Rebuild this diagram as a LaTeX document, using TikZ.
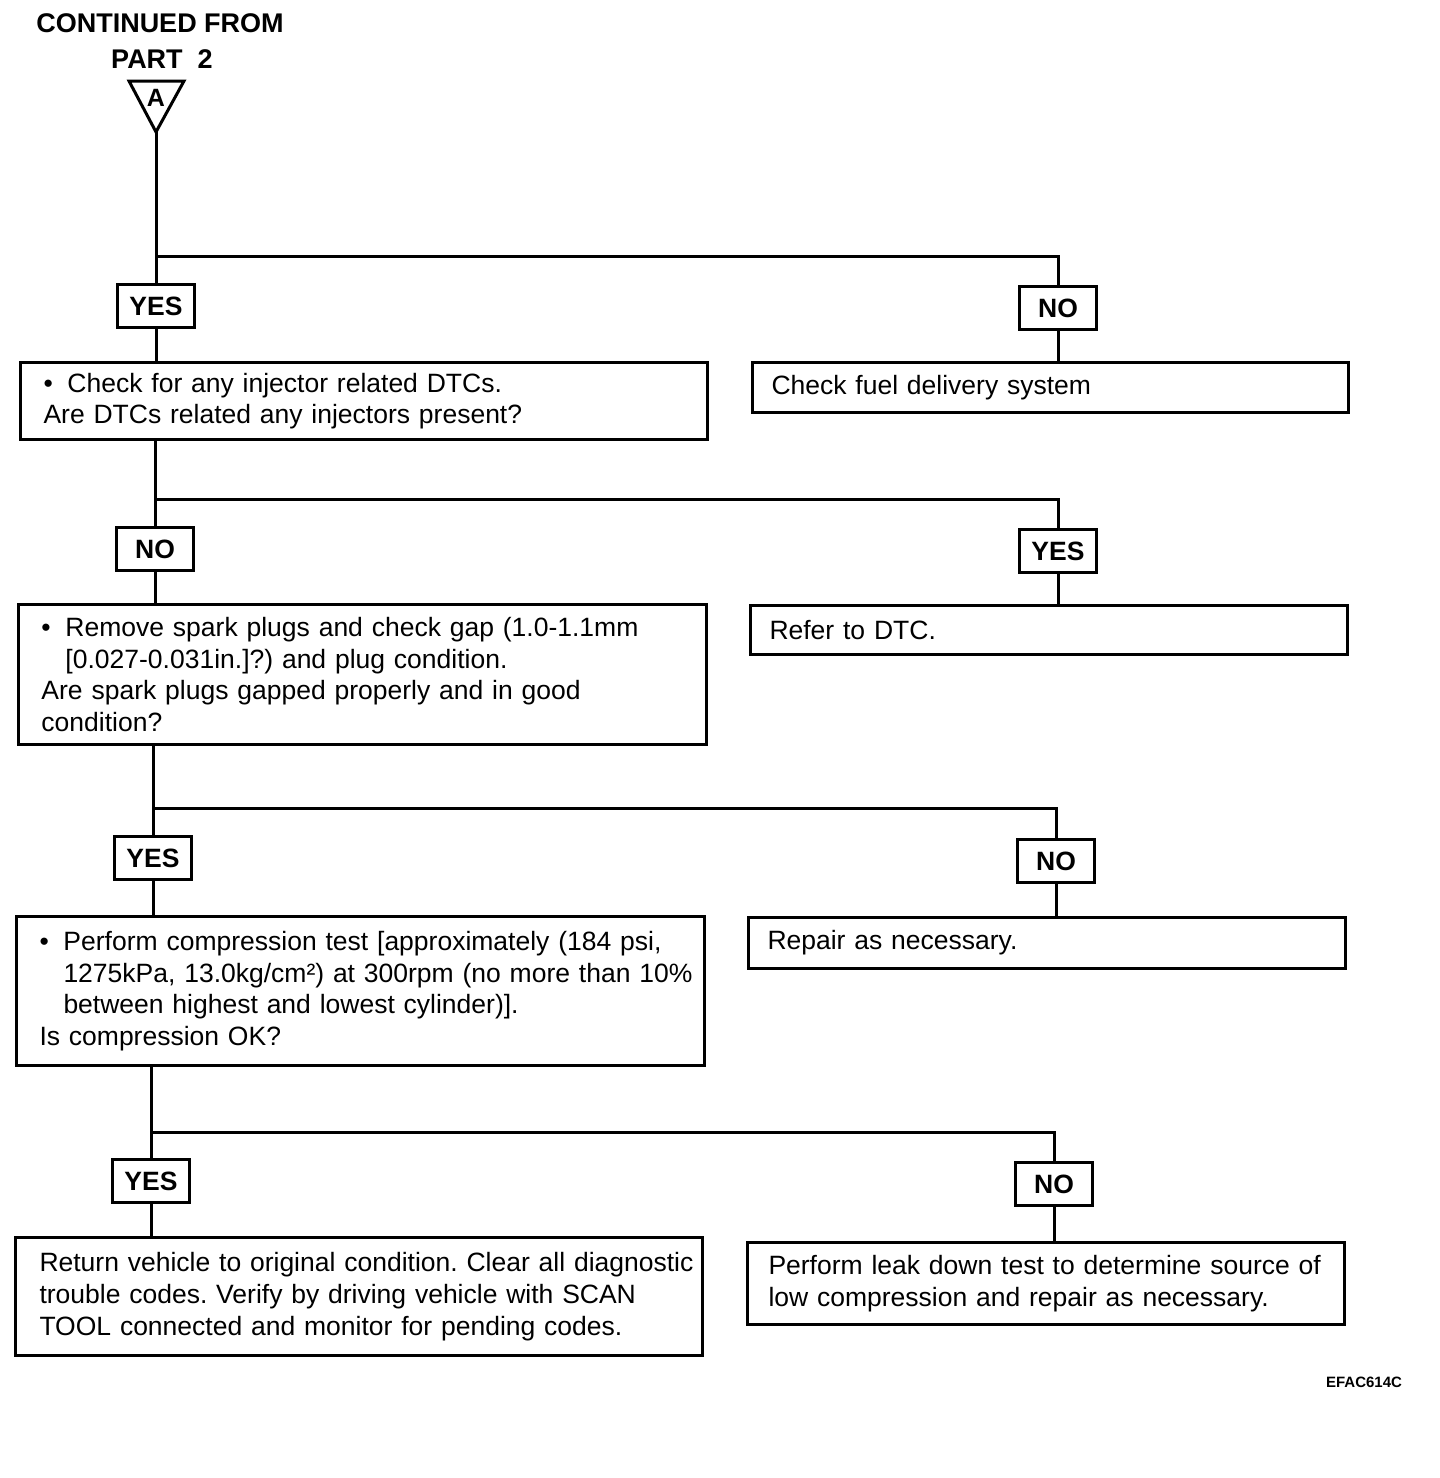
\documentclass[tikz,border=0pt]{standalone}
\usepackage{fontspec}
\setmainfont{Liberation Sans}
\frenchspacing
\begin{document}
\begin{tikzpicture}[x=1pt,y=-1pt]
\tikzset{
  ln/.style={line width=3pt},
  lbl/.style={draw, line width=3pt, minimum width=77, minimum height=43, inner sep=0pt,
    font=\bfseries\fontsize{26.5}{30}\selectfont},
  lbox/.style={draw, line width=3pt, anchor=north west, align=left, inner xsep=23pt, inner ysep=0pt,
    font=\frenchspacing\fontsize{26.5}{31.7}\selectfont},
  rbox/.style={draw, line width=3pt, anchor=north west, align=left, inner xsep=19pt, inner ysep=0pt,
    font=\frenchspacing\fontsize{26.5}{31.7}\selectfont},
  hdr/.style={font=\bfseries\fontsize{27}{30}\selectfont, inner sep=0pt}
}
\newcommand{\bul}{\makebox[24pt][l]{•}}
\newcommand{\ind}{\hspace*{24pt}}
\newcommand{\ml}[1]{\mbox{#1}}
\useasboundingbox (0,0) rectangle (1440,1478);
\fill[white] (0,0) rectangle (1440,1478);

% header
\node[hdr] (h1) at (160,23) {CONTINUED FROM};
\node[hdr] (h2) at (162,59) {PART\ \ 2};
\draw[ln, line join=miter] (129,81) -- (184,81) -- (156,132) -- cycle;
\coordinate (apex) at (156,132);
\node[font=\bfseries\fontsize{25}{28}\selectfont, inner sep=0pt] (tA) at (156,98) {A};

% level 1
\node[lbl] (yes1) at (156,306) {YES};
\node[lbl] (no1) at (1058,308) {NO};
\node[lbox, minimum width=687, minimum height=77, text width=641] (b1) at (19,361)
  {\ml{\bul Check for any injector related DTCs.}\\\ml{Are DTCs related any injectors present?}};
\node[rbox, minimum width=596, minimum height=50, text width=558] (r1) at (751,361)
  {\ml{Check fuel delivery system}};
\coordinate (j1) at (156,256);
\draw[ln] (apex) -- (yes1.north);
\draw[ln] (j1) -| (no1.north);
\draw[ln] (yes1.south) -- (yes1.south |- b1.north);
\draw[ln] (no1.south) -- (no1.south |- r1.north);

% level 2
\node[lbl] (no2) at (155,549) {NO};
\node[lbl] (yes2) at (1058,551) {YES};
\node[lbox, minimum width=688, minimum height=140, text width=642] (b2) at (17,603)
  {\ml{\bul Remove spark plugs and check gap (1.0-1.1mm}\\
   \ml{\ind[0.027-0.031in.]?) and plug condition.}\\
   \ml{Are spark plugs gapped properly and in good}\\
   \ml{condition?}};
\node[rbox, minimum width=597, minimum height=49, text width=559] (r2) at (749,604)
  {\ml{Refer to DTC.}};
\coordinate (j2) at (155,499);
\draw[ln] (no2.north |- b1.south) -- (no2.north);
\draw[ln] (j2) -| (yes2.north);
\draw[ln] (no2.south) -- (no2.south |- b2.north);
\draw[ln] (yes2.south) -- (yes2.south |- r2.north);

% level 3
\node[lbl] (yes3) at (153,858) {YES};
\node[lbl] (no3) at (1056,861) {NO};
\node[lbox, minimum width=688, minimum height=149, text width=642] (b3) at (15,915)
  {\ml{\bul Perform compression test [approximately (184 psi,}\\
   \ml{\ind 1275kPa, 13.0kg/cm²) at 300rpm (no more than 10\%}\\
   \ml{\ind between highest and lowest cylinder)].}\\
   \ml{Is compression OK?}};
\node[rbox, minimum width=597, minimum height=51, text width=559] (r3) at (747,916)
  {\ml{Repair as necessary.}};
\coordinate (j3) at (153,808);
\draw[ln] (yes3.north |- b2.south) -- (yes3.north);
\draw[ln] (j3) -| (no3.north);
\draw[ln] (yes3.south) -- (yes3.south |- b3.north);
\draw[ln] (no3.south) -- (no3.south |- r3.north);

% level 4
\node[lbl] (yes4) at (151,1181) {YES};
\node[lbl] (no4) at (1054,1184) {NO};
\node[lbox, inner xsep=24pt, minimum width=687, minimum height=118, text width=639] (b4) at (14,1236)
  {\ml{Return vehicle to original condition. Clear all diagnostic}\\
   \ml{trouble codes. Verify by driving vehicle with SCAN}\\
   \ml{TOOL connected and monitor for pending codes.}};
\node[rbox, inner xsep=21pt, minimum width=597, minimum height=82, text width=555] (r4) at (746,1241)
  {\ml{Perform leak down test to determine source of}\\
   \ml{low compression and repair as necessary.}};
\coordinate (j4) at (151,1132);
\draw[ln] (yes4.north |- b3.south) -- (yes4.north);
\draw[ln] (j4) -| (no4.north);
\draw[ln] (yes4.south) -- (yes4.south |- b4.north);
\draw[ln] (no4.south) -- (no4.south |- r4.north);

\node[font=\bfseries\fontsize{15}{18}\selectfont, inner sep=0pt] (code) at (1364,1382) {EFAC614C};
\end{tikzpicture}
\end{document}
